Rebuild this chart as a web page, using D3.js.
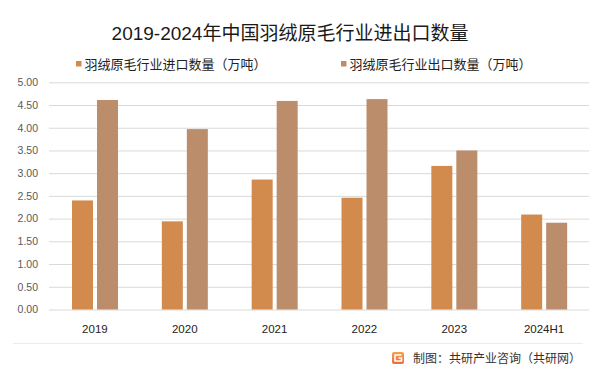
<!DOCTYPE html>
<html>
<head>
<meta charset="utf-8">
<script src="https://cdn.jsdelivr.net/npm/d3@7"></script>
<style>
  body { margin: 0; background: #fff; }
  svg { display: block; font-family: "Liberation Sans", "Noto Sans CJK SC", sans-serif; }
</style>
</head>
<body>
<div id="barchart"></div>
<script>
// data
const years = ["2019", "2020", "2021", "2022", "2023", "2024H1"];
const importQty = [2.40, 1.94, 2.86, 2.46, 3.16, 2.09];
const exportQty = [4.61, 3.97, 4.59, 4.63, 3.50, 1.91];
const seriesNames = ["羽绒原毛行业进口数量（万吨）", "羽绒原毛行业出口数量（万吨）"];
const yTicks = [0, 0.5, 1, 1.5, 2, 2.5, 3, 3.5, 4, 4.5, 5];

const width = 603, height = 376;
const margin = {top: 82, right: 14, bottom: 66, left: 49};

const data = years.map((y, i) => ({year: y, imp: importQty[i], exp: exportQty[i]}));
const keys = ["imp", "exp"];

const color = d3.scaleOrdinal().domain(keys).range(["#D38B4D", "#BC8D6B"]);

const x0 = d3.scaleBand()
  .domain(years)
  .range([margin.left + 1, width - margin.right])
  .padding(0);

const x1 = d3.scaleBand()
  .domain(keys)
  .range([22, 68])
  .paddingInner(0.16)
  .paddingOuter(0);

const y = d3.scaleLinear()
  .domain([0, 5])
  .range([height - margin.bottom - 0.5, margin.top + 0.3]);

const svg = d3.select("#barchart")
  .append("svg")
  .attr("width", width)
  .attr("height", height);

// title
svg.append("text")
  .attr("x", 290)
  .attr("y", 40)
  .attr("text-anchor", "middle")
  .style("font-size", "19px")
  .style("fill", "#1a1a1a")
  .text("2019-2024年中国羽绒原毛行业进出口数量");

// gridlines + y axis
const yAxis = g => g
  .attr("transform", `translate(${margin.left},0)`)
  .call(d3.axisLeft(y).tickValues(yTicks).tickFormat(d3.format(".2f"))
    .tickSize(-(width - margin.left - margin.right)).tickPadding(11))
  .call(g => g.select(".domain").remove())
  .call(g => g.selectAll(".tick line").attr("stroke", "#d9d9d9"))
  .call(g => g.selectAll(".tick text")
    .attr("fill", "#595959")
    .style("font-size", "10.5px")
    .style("font-family", "'Liberation Sans', sans-serif"));

svg.append("g").call(yAxis);

// bars
svg.append("g")
  .selectAll("g")
  .data(data)
  .join("g")
    .attr("transform", d => `translate(${x0(d.year)},0)`)
  .selectAll("rect")
  .data(d => keys.map(k => ({key: k, value: d[k]})))
  .join("rect")
    .attr("x", d => x1(d.key))
    .attr("y", d => y(d.value))
    .attr("width", x1.bandwidth())
    .attr("height", d => y(0) - y(d.value))
    .attr("fill", d => color(d.key));

// x labels
svg.append("g")
  .selectAll("text")
  .data(years)
  .join("text")
    .attr("x", d => x0(d) + x0.bandwidth() / 2)
    .attr("y", 333)
    .attr("text-anchor", "middle")
    .style("font-size", "11.5px")
    .style("fill", "#222")
    .text(d => d);

// legend
const legendX = [76, 341];
const legend = svg.append("g")
  .selectAll("g")
  .data(keys)
  .join("g")
    .attr("transform", (d, i) => `translate(${legendX[i]},61)`);

legend.append("rect")
  .attr("width", 5.5)
  .attr("height", 5.5)
  .attr("fill", d => color(d));

legend.append("text")
  .attr("x", 8.5)
  .attr("y", 7.5)
  .style("font-size", "13px")
  .style("fill", "#222")
  .text((d, i) => seriesNames[i]);

// footer
svg.append("line")
  .attr("x1", 13).attr("x2", 583)
  .attr("y1", 343.5).attr("y2", 343.5)
  .attr("stroke", "#ececec");

const grad = svg.append("defs").append("linearGradient")
  .attr("id", "logoGrad").attr("x1", 0).attr("y1", 0).attr("x2", 0).attr("y2", 1);
grad.append("stop").attr("offset", "0%").attr("stop-color", "#F7A04B");
grad.append("stop").attr("offset", "100%").attr("stop-color", "#EE6A3C");

const logo = svg.append("g").attr("transform", "translate(392,352)");
logo.append("rect").attr("width", 12).attr("height", 12).attr("rx", 2).attr("fill", "url(#logoGrad)");
logo.append("path")
  .attr("d", "M9.5,3 H3 V9 H9.5 V6 H6.5")
  .attr("fill", "none")
  .attr("stroke", "#fff")
  .attr("stroke-width", 1.6);

svg.append("text")
  .attr("x", 413)
  .attr("y", 362.5)
  .style("font-size", "12px")
  .style("font-family", "'Noto Sans CJK SC', sans-serif")
  .style("fill", "#333")
  .text("制图：共研产业咨询（共研网）");
</script>
</body>
</html>
